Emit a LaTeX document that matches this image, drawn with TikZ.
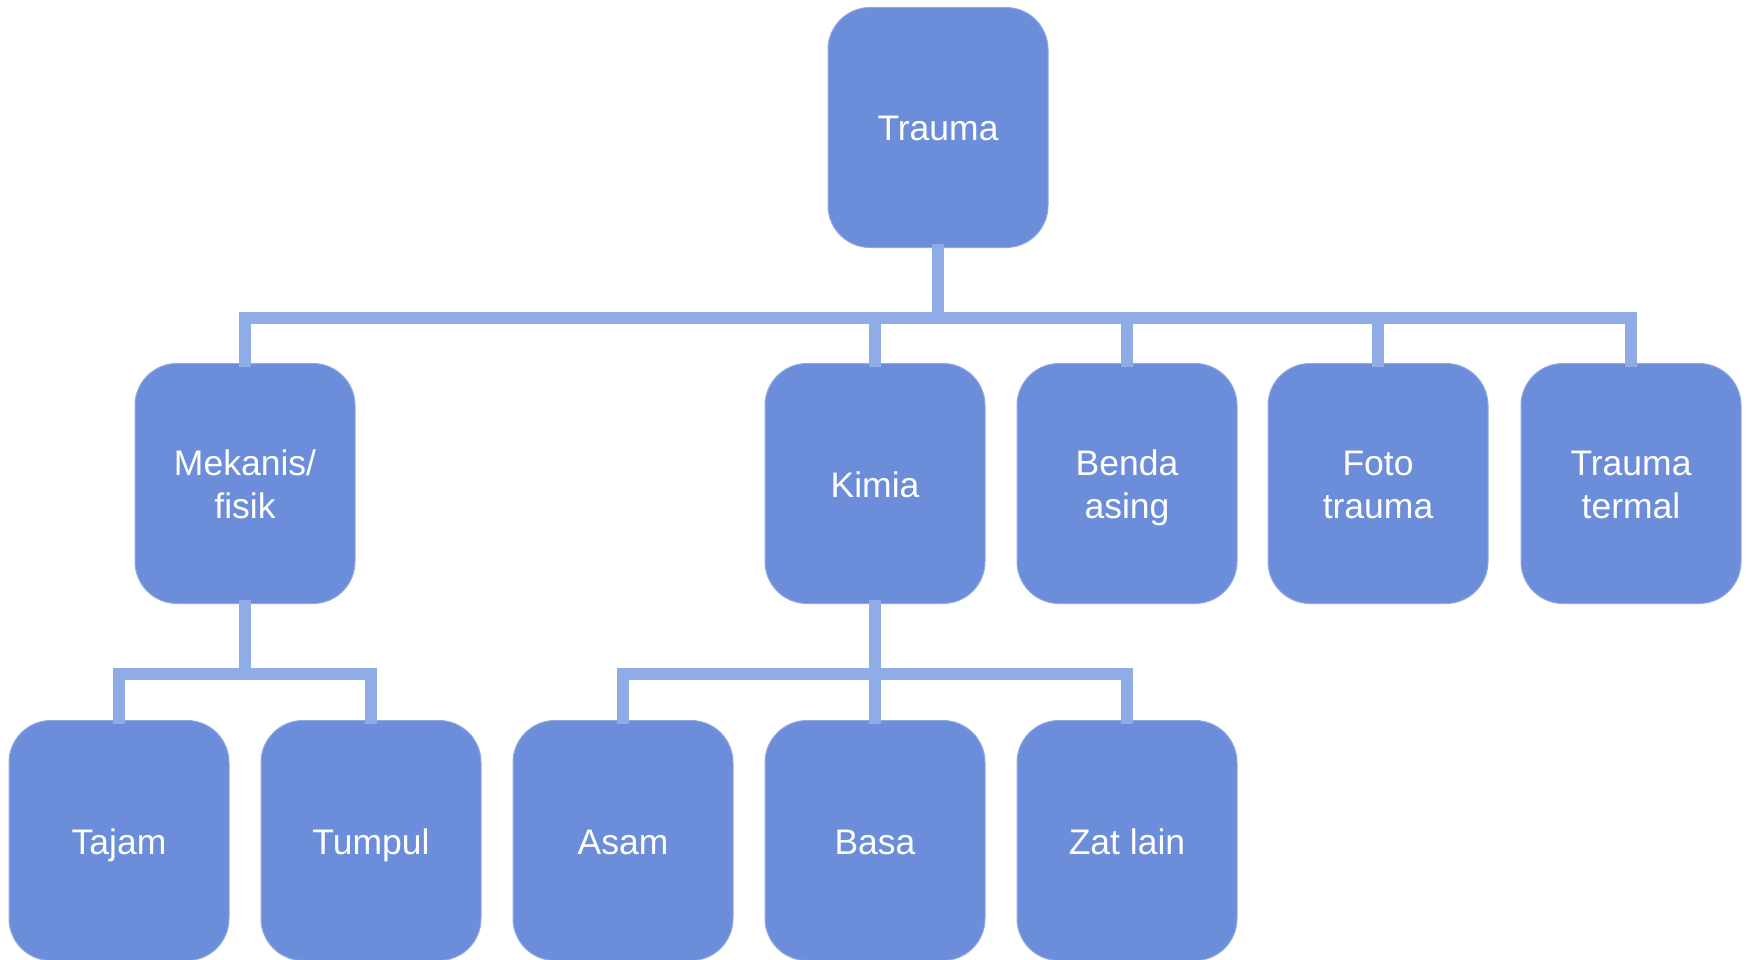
\documentclass[tikz,border=0pt]{standalone}
\usepackage{fontspec}
\setmainfont{Liberation Sans}
\definecolor{boxfill}{RGB}{108,141,218}
\definecolor{conncol}{RGB}{143,172,231}
\newcommand\boxstrut{\rule[-8pt]{0pt}{43pt}}
\begin{document}
\begin{tikzpicture}[x=1pt,y=-1pt,
  box/.style={draw=boxfill!75!white, line width=1pt, fill=boxfill, rounded corners=42pt,
    minimum width=220pt, minimum height=240pt, inner sep=0pt,
    text=white, align=center, font=\fontsize{35.5}{43}\selectfont},
  conn/.style={draw=conncol, line width=12pt, line join=miter, line cap=butt}]
\useasboundingbox (0,0) rectangle (1750,960);
% nodes
\node[box] (root) at (938,127.5) {\boxstrut Trauma};
\node[box] (mek) at (245,483.5) {\boxstrut Mekanis/\\\boxstrut fisik};
\node[box] (kim) at (875,483.5) {\boxstrut Kimia};
\node[box] (ben) at (1127,483.5) {\boxstrut Benda\\\boxstrut asing};
\node[box] (fot) at (1378,483.5) {\boxstrut Foto\\\boxstrut trauma};
\node[box] (ter) at (1631,483.5) {\boxstrut Trauma\\\boxstrut termal};
\node[box] (taj) at (119,840.5) {\boxstrut Tajam};
\node[box] (tum) at (371,840.5) {\boxstrut Tumpul};
\node[box] (asa) at (623,840.5) {\boxstrut Asam};
\node[box] (bas) at (875,840.5) {\boxstrut Basa};
\node[box] (zat) at (1127,840.5) {\boxstrut Zat lain};
% junction coordinates
\coordinate (j1) at (938,318);
\coordinate (j2) at (245,674);
\coordinate (j3) at (875,674);
% connectors
\draw[conn] ([yshift=4pt]root.south) -- (j1);
\draw[conn] (j1) -| ([yshift=-4pt]mek.north);
\draw[conn] (j1) -| ([yshift=-4pt]kim.north);
\draw[conn] (j1) -| ([yshift=-4pt]ben.north);
\draw[conn] (j1) -| ([yshift=-4pt]fot.north);
\draw[conn] (j1) -| ([yshift=-4pt]ter.north);
\draw[conn] ([yshift=4pt]mek.south) -- (j2);
\draw[conn] (j2) -| ([yshift=-4pt]taj.north);
\draw[conn] (j2) -| ([yshift=-4pt]tum.north);
\draw[conn] ([yshift=4pt]kim.south) -- (j3);
\draw[conn] (j3) -| ([yshift=-4pt]asa.north);
\draw[conn] (j3) -- ([yshift=-4pt]bas.north);
\draw[conn] (j3) -| ([yshift=-4pt]zat.north);
\end{tikzpicture}
\end{document}
